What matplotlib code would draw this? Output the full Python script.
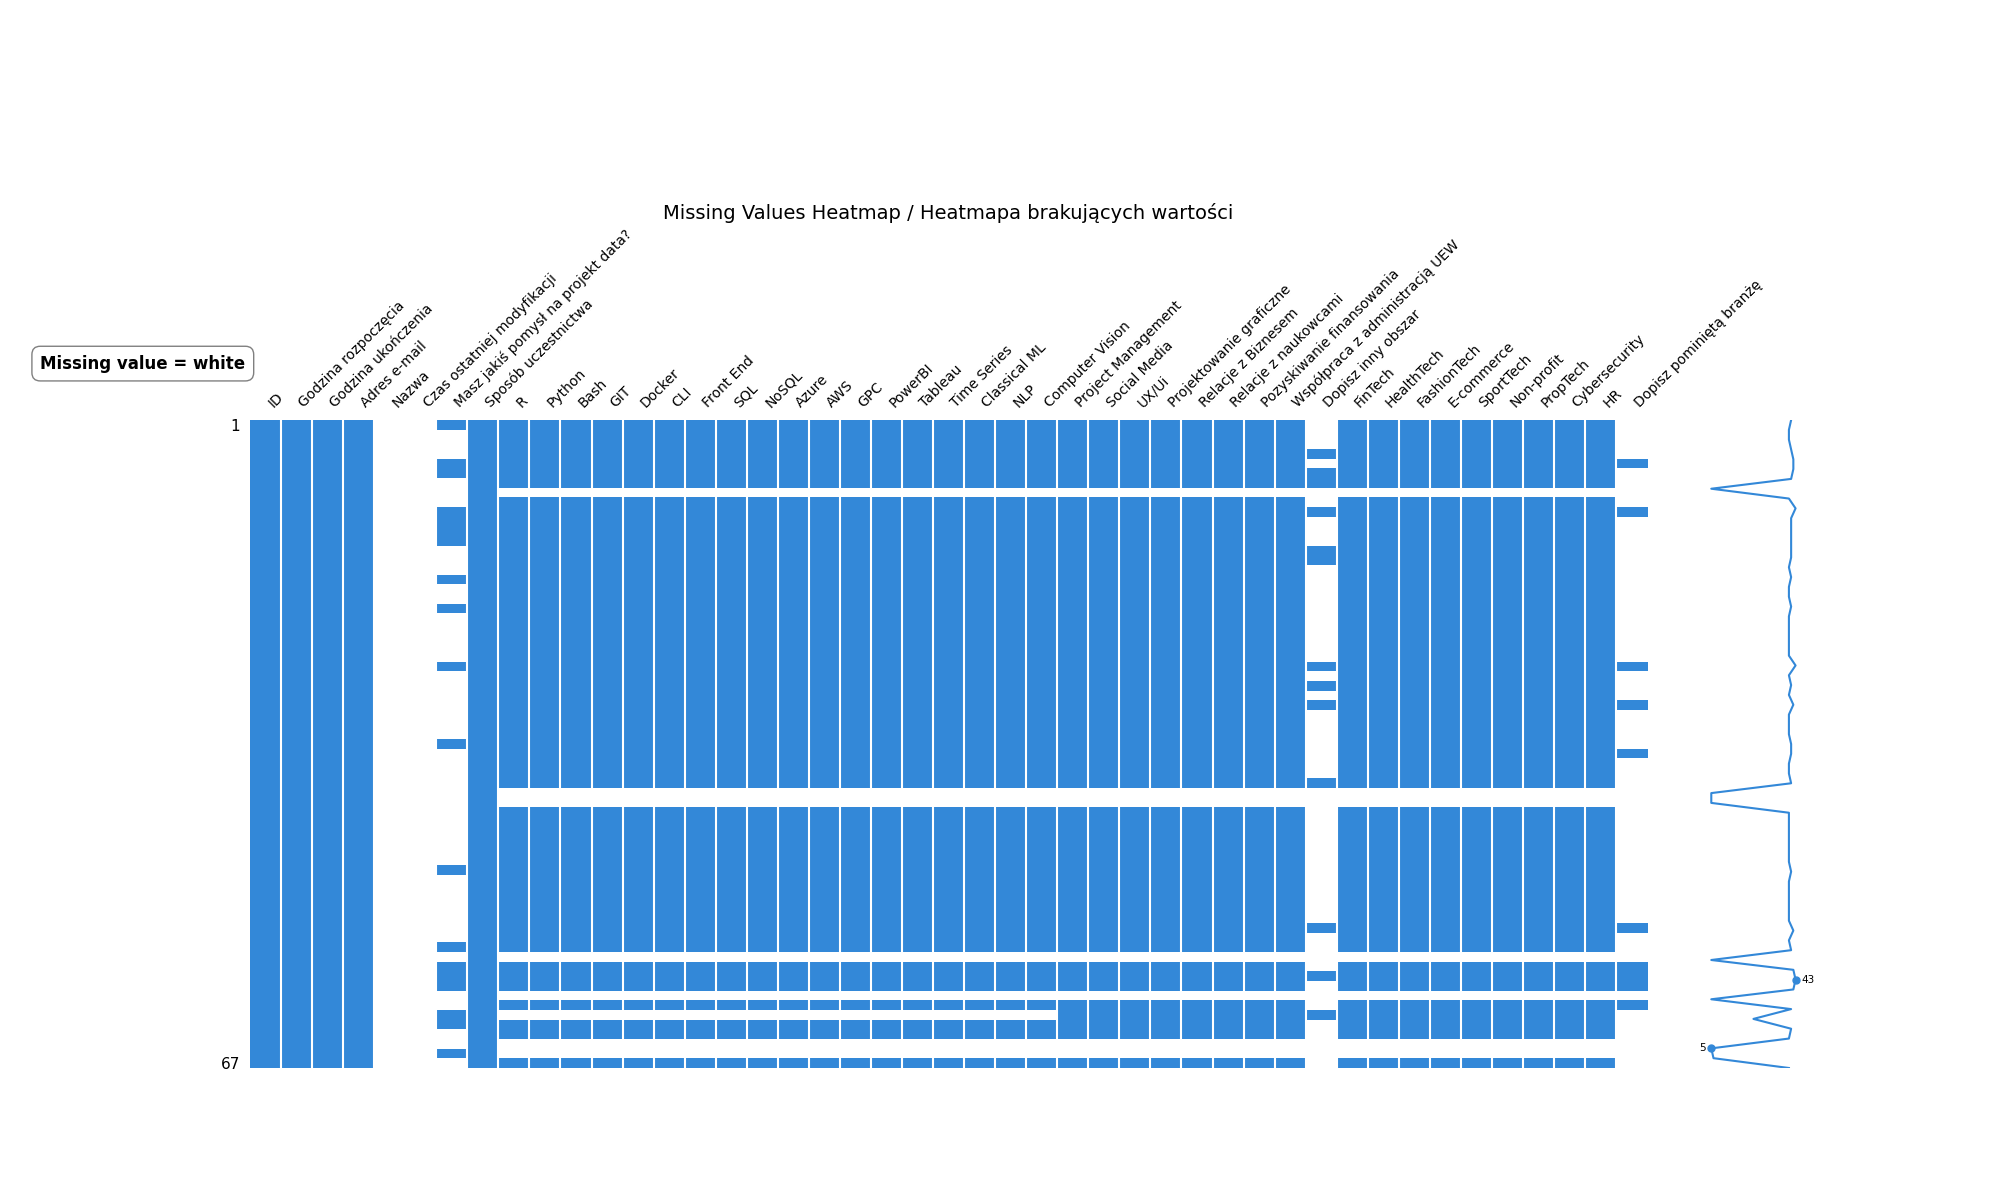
import numpy as np
import matplotlib
matplotlib.use("Agg")
import matplotlib.pyplot as plt
from matplotlib import gridspec

# missing values matrix (missingno style) drawn by hand

columns = ["ID", "Godzina rozpoczęcia", "Godzina ukończenia", "Adres e-mail", "Nazwa",
           "Czas ostatniej modyfikacji", "Masz jakiś pomysł na projekt data?", "Sposób uczestnictwa",
           "R", "Python", "Bash", "GIT", "Docker", "CLI", "Front End", "SQL", "NoSQL", "Azure",
           "AWS", "GPC", "PowerBI", "Tableau", "Time Series", "Classical ML", "NLP",
           "Computer Vision", "Project Management", "Social Media", "UX/Ui",
           "Projektowanie graficzne", "Relacje z Biznesem", "Relacje z naukowcami",
           "Pozyskiwanie finansowania", "Współpraca z administracją UEW", "Dopisz inny obszar",
           "FinTech", "HealthTech", "FashionTech", "E-commerce", "SportTech", "Non-profit",
           "PropTech", "Cybersecurity", "HR", "Dopisz pominiętą branżę"]
n_rows = 67

full_cols = ["ID", "Godzina rozpoczęcia", "Godzina ukończenia", "Adres e-mail", "Sposób uczestnictwa"]
empty_cols = ["Nazwa", "Czas ostatniej modyfikacji"]

# rows (0-based) where the sparse columns have an answer
pomysl_rows = [0, 4, 5, 9, 10, 11, 12, 16, 19, 25, 33, 46, 54, 56, 57, 58, 61, 62, 65]
inny_obszar_rows = [3, 5, 6, 9, 13, 14, 25, 27, 29, 37, 52, 57, 61]
branza_rows = [4, 9, 25, 29, 34, 52, 56, 57, 58, 60]

# skills R .. Computer Vision
skills_a = columns[8:26]
skills_a_missing = [7, 38, 39, 55, 59, 61, 64, 65]
# Project Management .. Współpraca and FinTech .. HR
skills_b = columns[26:34] + columns[35:44]
skills_b_missing = [7, 38, 39, 55, 59, 64, 65]

color = "#3388d8"
title = "Missing Values Heatmap / Heatmapa brakujących wartości"

present = np.zeros((n_rows, len(columns)), dtype=bool)
for c in full_cols:
    present[:, columns.index(c)] = True
present[pomysl_rows, columns.index("Masz jakiś pomysł na projekt data?")] = True
present[inny_obszar_rows, columns.index("Dopisz inny obszar")] = True
present[branza_rows, columns.index("Dopisz pominiętą branżę")] = True
for c in skills_a:
    present[:, columns.index(c)] = True
    present[skills_a_missing, columns.index(c)] = False
for c in skills_b:
    present[:, columns.index(c)] = True
    present[skills_b_missing, columns.index(c)] = False

rgb = np.ones((n_rows, len(columns), 3))
rgb[present] = matplotlib.colors.to_rgb(color)

fig = plt.figure(figsize=(20, 12), dpi=100)
gs = gridspec.GridSpec(1, 2, width_ratios=[15, 1], left=0.125, right=0.9,
                       bottom=0.11, top=0.65, wspace=0.08)
ax0 = fig.add_subplot(gs[0])
ax1 = fig.add_subplot(gs[1])

ax0.imshow(rgb, interpolation="none", aspect="auto")
for x in range(len(columns) - 1):
    ax0.axvline(x + 0.5, color="white", linewidth=1.5)

ax0.xaxis.tick_top()
ax0.set_xticks(range(len(columns)))
ax0.set_xticklabels(columns, rotation=45, ha="left", fontsize=10)
ax0.set_yticks([0, n_rows - 1])
ax0.set_yticklabels([1, n_rows], fontsize=11)
ax0.xaxis.set_ticks_position("none")
ax0.yaxis.set_ticks_position("none")
for s in ax0.spines.values():
    s.set_visible(False)

# sparkline of row completeness
completeness = present.sum(axis=1)
y_range = list(reversed(completeness.tolist()))
x_domain = list(range(n_rows))
cmin = min(y_range)
cmax = max(y_range)
imin = y_range.index(cmin)
imax = y_range.index(cmax)

ax1.plot(y_range, x_domain, color=color, linewidth=1.5)
ax1.set_ymargin(0)
ax1.set_ylim(0, n_rows - 1)
ax1.set_xlim(cmin - 2, cmax + 2)
ax1.plot([cmin], [imin], ".", color=color, markersize=10)
ax1.plot([cmax], [imax], ".", color=color, markersize=10)
ax1.annotate(cmax, xy=(cmax, imax), xytext=(4, 0), textcoords="offset points",
             fontsize=7.5, va="center", ha="left")
ax1.annotate(cmin, xy=(cmin, imin), xytext=(-4, 0), textcoords="offset points",
             fontsize=7.5, va="center", ha="right")
ax1.set_xticks([])
ax1.set_yticks([])
for s in ax1.spines.values():
    s.set_visible(False)

fig.text(0.474, 0.8225, title, ha="center", va="center", fontsize=14)
fig.text(0.0714, 0.697, "Missing value = white", ha="center", va="center", fontsize=12,
         fontweight="bold",
         bbox=dict(boxstyle="round,pad=0.5", facecolor="white", edgecolor="gray"))

fig.savefig("out.png", dpi=100)
